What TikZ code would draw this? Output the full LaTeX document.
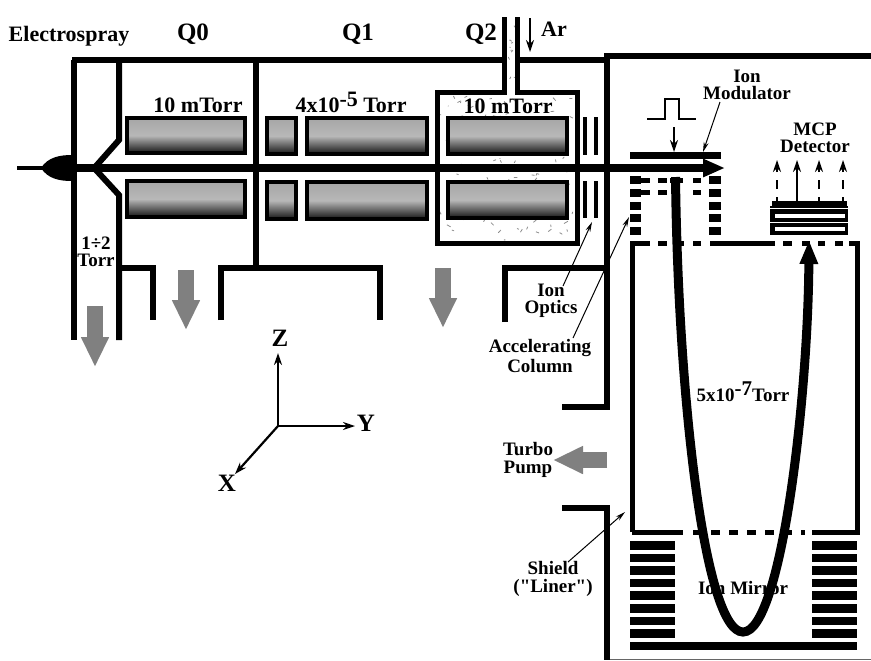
\documentclass[tikz,border=0pt]{standalone}
\usepackage{xcolor}
\usepackage{fontspec}
\setmainfont{Liberation Serif}
\newfontfamily\straightfont{Liberation Serif}
\usetikzlibrary{arrows.meta, positioning, calc}
\begin{document}
\begin{tikzpicture}[x=0.5pt, y=-0.5pt,
    wall/.style={line width=3pt, line cap=butt, line join=miter},
    liner/.style={line width=2.5pt, line join=miter},
    rodbox/.style={draw=black, line width=2pt, top color=black!35, bottom color=black!92, middle color=black!28},
    plate/.style={line width=2pt},
    pump/.style={draw=black!50, line width=8pt, -{Triangle[length=15pt, width=13pt, fill=black!50]}},
    thinarrow/.style={line width=1.1pt, -{Stealth[length=6pt, width=4pt]}},
    callout/.style={line width=0.5pt, -{Stealth[length=5pt, width=2.5pt]}},
    txt/.style={font=\bfseries\fontsize{9.5}{8.6}\selectfont, align=center, inner sep=0pt},
    bigtxt/.style={font=\bfseries\fontsize{12.5}{14}\selectfont, inner sep=0pt},
    midtxt/.style={font=\bfseries\fontsize{11}{13}\selectfont, inner sep=0pt}]
    \useasboundingbox (0,0) rectangle (871,660);
    % gas in the collision cell
    \pgfmathsetseed{7}
    \foreach \i in {1,...,120}
        \draw[black!45, line width=0.4pt] ({441+132*rnd},{96+144*rnd}) -- ++({8*rnd-4},{6*rnd-3});
    \foreach \i in {1,...,10}
        \draw[black!45, line width=0.4pt] ({507+8*rnd},{25+62*rnd}) -- ++({4*rnd-2},{5*rnd-2});
    % housing
    \draw[wall] (72,60) -- (504,60) (517,60) -- (607,60);
    \draw[wall] (74,60) -- (74,340);
    \draw[wall] (119,60) -- (119,140) -- (96,166);
    \draw[wall] (96,170) -- (119,195) -- (119,340);
    \draw[wall] (256,60) -- (256,268);
    \draw[wall] (119,268) -- (153,268) -- (153,320);
    \draw[wall] (221,320) -- (221,268) -- (380,268) -- (380,320);
    \draw[wall] (505,322) -- (505,268) -- (607,268);
    \draw[wall] (604,56) -- (871,56);
    \draw[wall] (607,56) -- (607,407) -- (562,407);
    \draw[wall] (562,508) -- (607,508) -- (607,660);
    \draw[black!60, line width=0.5pt] (610,659) -- (871,659);
    % Q2 cell and gas line
    \draw[liner] (504,17) -- (504,92) -- (437,92) -- (437,243) -- (577,243) -- (577,92) -- (517,92) -- (517,17);
    % rods
    \draw[rodbox] (127,118) rectangle (245,153);
    \draw[rodbox] (127,181) rectangle (245,217);
    \draw[rodbox] (267,118) rectangle (296,154);
    \draw[rodbox] (267,182) rectangle (296,219);
    \draw[rodbox] (307,118) rectangle (427,154);
    \draw[rodbox] (307,182) rectangle (427,219);
    \draw[rodbox] (448,118) rectangle (567,154);
    \draw[rodbox] (448,182) rectangle (567,218);
    % ion optics
    \foreach \xx in {585,596} {
        \draw[plate] (\xx,117) -- (\xx,155);
        \draw[plate] (\xx,181) -- (\xx,218);
    }
    % source and beam
    \fill (41,168) .. controls (48,157) and (60,155) .. (72,155) -- (72,181) .. controls (60,181) and (48,179) .. (41,168);
    \draw[line width=2.2pt] (17,168) -- (45,168);
    \draw[line width=4.3pt, -{Triangle[length=11pt, width=8.5pt]}] (72,168) -- (725,168);
    % modulator
    \fill (630,152) rectangle (721,159);
    \foreach \yy in {176,189,202,214,227} {
        \fill (630,\yy) rectangle (641,\yy+8);
        \fill (709,\yy) rectangle (721,\yy+8);
    }
    \draw[liner] (641,180) -- (650,180) (658,180) -- (667,180) (670,180) -- (683,180) (693,180) -- (701,180);
    \draw[liner] (641,192) -- (650,192) (658,192) -- (667,192) (693,192) -- (701,192);
    \draw[line width=1pt] (647,119) -- (665,119) -- (665,99) -- (679,99) -- (679,119) -- (696,119);
    \draw[thinarrow] (674,127) -- (674,152);
    % liner
    \draw[liner] (632,532) -- (632,243) -- (650,243) (658,243) -- (667,243) (678,243) -- (684,243) (693,243) -- (701,243) (710,243) -- (775,243) (783,243) -- (792,243) (802,243) -- (810,243) (818,243) -- (825,243) (835,243) -- (843,243) (849,243) -- (857,243) -- (857,532) -- (812,532);
    \draw[liner] (632,532) -- (683,532);
    \draw[liner, dash pattern=on 4.5pt off 4.5pt] (693,532) -- (805,532);
    % mirror
    \foreach \row in {0,...,7} {
        \fill (630,{541+\row*12.6}) rectangle (675,{549.5+\row*12.6});
        \fill (812,{541+\row*12.6}) rectangle (857,{549.5+\row*12.6});
    }
    \fill (630,642) rectangle (857,650);
    % detector
    \fill (770,206) rectangle (848,235);
    \fill (772,201) rectangle (847,207);
    \fill[white] (775,214.3) rectangle (845,217.7);
    \fill[white] (775,227.3) rectangle (845,231);
    \draw[white, line width=0.35pt] (770,208.5) -- (848,208.5) (770,222.5) -- (848,222.5);
    \draw[thinarrow] (797,202) -- (797,160);
    \foreach \xx in {777,819,843}
        \draw[thinarrow, dash pattern=on 2.5pt off 4pt on 4.5pt off 4pt] (\xx,202) -- (\xx,160);
    % labels
    \node[midtxt] (sourcelbl) at (69,36) {Electrospray};
    \node[bigtxt] (qzero) at (193,34) {Q0};
    \node[bigtxt] (qone) at (358,34) {Q1};
    \node[bigtxt] (qtwo) at (481,34) {Q2};
    \node[midtxt] (arlbl) at (554,29) {Ar};
    \node[midtxt] (pzero) at (198,105) {10 mTorr};
    \node[midtxt] (pone) at (351,102) {4x10\raisebox{3pt}{-5} Torr};
    \node[midtxt] (ptwo) at (508,106) {10 mTorr};
    \node[txt] (pfore) at (96,252) {1÷2\\Torr};
    \node[txt] (modlbl) at (747,85) {Ion\\Modulator};
    \node[txt] (mcplbl) at (815,138) {MCP\\Detector};
    \node[txt] (optlbl) at (551,301) {Ion\\Optics};
    \node[txt] (acclbl) at (540,356) {Accelerating\\Column};
    \node[txt] (turbolbl) at (528,460) {Turbo\\Pump};
    \node[txt] (shieldlbl) at (553,579) {Shield\\{\straightfont ("Liner")}};
    \node[txt] (ptof) at (743,392) {5x10\raisebox{3pt}{\fontsize{10.5}{12}\selectfont -7}Torr};
    \node[txt] (mirrorlbl) at (743,588) {Ion Mirror};
    % axes
    \node[bigtxt] (zlbl) at (280,338) {Z};
    \node[bigtxt] (ylbl) at (366,423) {Y};
    \node[bigtxt] (xlbl) at (227,483) {X};
    \coordinate (origin) at (278,426);
    \draw[thinarrow] (origin) -- (278,353);
    \draw[thinarrow] (origin) -- (355,426);
    \draw[thinarrow] (origin) -- (235,474);
    % pumping
    \draw[pump] (95,306) -- (95,367);
    \draw[pump] (186,270) -- (186,330);
    \draw[pump] (443,268) -- (443,328);
    \draw[pump] (607,460) -- (553,460);
    \draw[thinarrow] (530,18) -- (530,52);
    % callouts
    \coordinate (modtip) at (703,152);
    \coordinate (opttip) at (592,222);
    \coordinate (acctip) at (629,217);
    \coordinate (shieldtip) at (625,512);
    \draw[callout] (720,102) -- (modtip);
    \draw[callout] (563,286) -- (opttip);
    \draw[callout] (573,338) -- (acctip);
    \draw[callout] (568,562) -- (shieldtip);
    % ion path
    \draw[line width=4.5pt, -{Triangle[length=12pt, width=8.5pt]}] (675.5,177) .. controls (678,400) and (705,632) .. (743,632) .. controls (781,632) and (808,400) .. (809,240);
\end{tikzpicture}
\end{document}
